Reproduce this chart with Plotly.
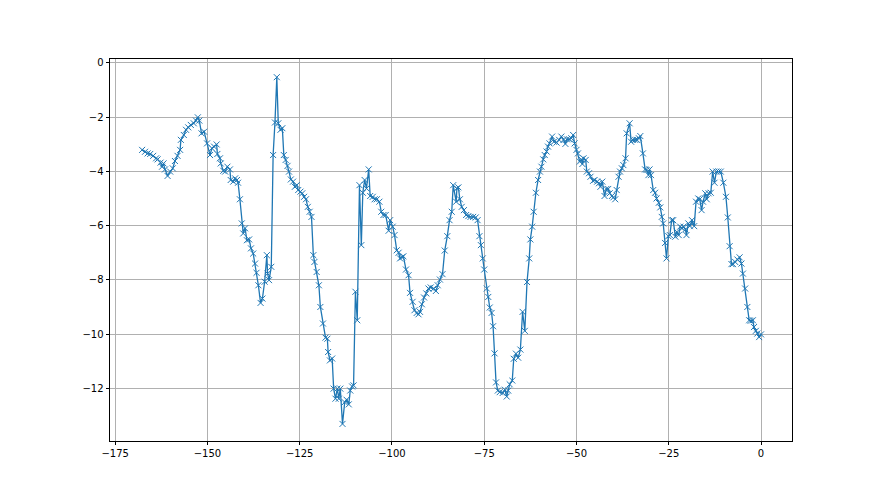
import plotly.graph_objects as go

x_vals = [
    -167.7, -166.9, -166.2, -165.5, -164.7, -163.9, -163.5, -162.7, -162.3, -161.9,
    -161.5, -160.8, -160.1, -159.4, -158.8, -158.1, -157.4, -157.2, -156.4, -155.8,
    -155.2, -154.5, -153.7, -153.1, -152.6, -152.2, -151.6, -150.9, -150.1, -149.3,
    -148.8, -148.2, -147.5, -147.3, -146.6, -146.4, -145.7, -145.2, -144.6, -143.9,
    -143.7, -143.0, -142.5, -142.0, -141.7, -141.2, -140.7, -140.3, -139.8, -139.3,
    -138.7, -138.2, -137.6, -137.1, -136.7, -136.2, -135.6, -135.1, -134.5, -133.9,
    -133.7, -133.3, -132.7, -132.2, -131.7, -131.2, -130.8, -130.2, -129.7, -129.3,
    -128.8, -128.3, -127.9, -127.4, -126.8, -126.3, -125.8, -125.4, -124.8, -124.3,
    -123.8, -123.3, -122.8, -122.3, -121.8, -121.3, -121.0, -120.4, -119.8, -119.4,
    -118.7, -118.0, -117.5, -117.3, -116.8, -116.2, -115.8, -115.3, -114.8, -114.4,
    -114.0, -113.4, -112.8, -112.3, -111.7, -111.3, -110.8, -110.4, -109.9, -109.4,
    -108.8, -108.3, -107.9, -107.4, -106.9, -106.3, -105.9, -105.2, -104.7, -104.1,
    -103.4, -102.9, -102.3, -101.7, -100.9, -100.5, -99.8, -99.3, -98.7, -98.2,
    -97.8, -97.3, -96.9, -96.2, -95.5, -95.1, -94.4, -93.9, -93.3, -92.8,
    -92.4, -91.9, -91.3, -90.7, -90.1, -89.5, -88.7, -88.1, -87.6, -87.0,
    -86.3, -85.7, -85.0, -84.4, -83.8, -83.4, -82.6, -82.4, -82.0, -81.6,
    -81.1, -80.5, -79.9, -79.3, -78.7, -78.0, -77.3, -76.8, -76.3, -75.9,
    -75.4, -75.0, -74.3, -73.9, -73.5, -73.0, -72.6, -72.2, -71.8, -71.3,
    -70.8, -70.0, -69.4, -68.9, -68.5, -68.1, -67.4, -67.0, -66.4, -65.8,
    -65.2, -64.6, -64.0, -63.4, -62.8, -62.5, -62.0, -61.6, -61.0, -60.4,
    -59.9, -59.5, -59.0, -58.6, -58.1, -57.7, -57.3, -56.6, -56.1, -55.4,
    -54.7, -54.1, -53.5, -53.0, -52.6, -52.0, -51.4, -50.9, -50.5, -50.0,
    -49.6, -49.1, -48.7, -48.4, -48.1, -47.5, -47.2, -46.6, -46.2, -45.5,
    -45.1, -44.4, -43.9, -43.5, -43.0, -42.4, -41.9, -41.4, -41.0, -40.4,
    -40.0, -39.5, -39.1, -38.6, -38.2, -37.7, -37.3, -36.7, -36.4, -35.6,
    -35.2, -34.7, -34.1, -33.6, -33.1, -32.7, -32.0, -31.4, -31.0, -30.5,
    -30.2, -29.8, -29.2, -28.7, -28.3, -27.7, -27.3, -26.9, -26.5, -26.0,
    -25.6, -25.1, -24.7, -24.2, -23.8, -23.2, -22.8, -22.3, -21.9, -21.4,
    -21.0, -20.5, -20.2, -19.7, -19.3, -18.7, -18.1, -17.6, -17.0, -16.6,
    -16.1, -15.7, -15.1, -14.7, -14.2, -13.6, -13.1, -12.6, -12.1, -11.5,
    -10.9, -10.2, -9.5, -9.0, -8.5, -8.0, -7.6, -7.0, -6.4, -5.8,
    -5.3, -4.9, -4.3, -3.7, -3.2, -2.8, -2.2, -1.9, -1.4, -1.0,
    -0.5, 0.0,
]

y_vals = [
    -3.21, -3.28, -3.34, -3.36, -3.43, -3.52, -3.56, -3.68, -3.83, -3.71,
    -3.93, -4.17, -4.01, -3.89, -3.62, -3.43, -3.21, -2.84, -2.66, -2.47,
    -2.38, -2.29, -2.23, -2.13, -2.01, -2.13, -2.60, -2.54, -2.97, -3.40,
    -3.15, -3.09, -3.01, -3.36, -3.52, -3.71, -3.98, -4.01, -3.83, -3.93,
    -4.32, -4.38, -4.26, -4.32, -4.42, -5.03, -5.92, -6.29, -6.10, -6.54,
    -6.51, -6.84, -7.03, -7.40, -7.74, -8.20, -8.85, -8.69, -8.07, -7.09,
    -7.77, -8.01, -7.52, -3.40, -2.20, -0.53, -2.23, -2.47, -2.41, -3.40,
    -3.58, -3.80, -4.01, -4.30, -4.38, -4.57, -4.51, -4.69, -4.75, -4.81,
    -4.94, -5.03, -5.31, -5.49, -5.68, -7.09, -7.34, -7.71, -8.20, -9.00,
    -9.61, -10.13, -10.17, -10.66, -10.97, -10.90, -12.01, -12.38, -12.01, -12.38,
    -12.01, -13.31, -12.51, -12.42, -12.59, -12.08, -11.93, -11.89, -8.44, -9.49,
    -4.51, -6.72, -4.79, -4.32, -4.63, -3.93, -4.91, -4.94, -5.03, -5.03,
    -5.12, -5.49, -5.61, -5.61, -6.19, -5.80, -6.04, -6.35, -6.91, -7.00,
    -7.21, -7.17, -7.13, -7.62, -7.83, -8.48, -8.81, -9.12, -9.22, -9.27,
    -9.18, -8.90, -8.65, -8.50, -8.32, -8.28, -8.32, -8.41, -8.20, -7.99,
    -7.79, -6.92, -6.39, -5.80, -5.49, -4.51, -5.12, -4.63, -4.59, -5.03,
    -5.31, -5.43, -5.61, -5.65, -5.68, -5.68, -5.70, -5.80, -6.39, -6.72,
    -7.21, -7.62, -8.32, -8.63, -9.02, -9.22, -9.71, -10.71, -11.78, -12.08,
    -12.14, -12.17, -12.05, -12.30, -12.08, -11.85, -11.71, -10.91, -10.72, -10.87,
    -10.57, -9.18, -9.88, -8.08, -7.21, -6.51, -6.04, -5.49, -4.79, -4.32,
    -4.01, -3.83, -3.56, -3.40, -3.27, -3.09, -2.97, -2.72, -2.91, -2.94,
    -2.84, -2.72, -2.84, -2.99, -2.82, -2.82, -2.78, -2.66, -2.97, -3.21,
    -3.34, -3.64, -3.56, -3.73, -3.52, -3.58, -4.01, -4.07, -4.20, -4.35,
    -4.32, -4.38, -4.44, -4.57, -4.38, -4.91, -4.65, -4.65, -4.81, -4.91,
    -4.96, -5.03, -4.69, -4.20, -4.01, -3.89, -3.77, -3.52, -2.60, -2.23,
    -2.91, -2.84, -2.84, -2.84, -2.78, -2.70, -3.34, -3.93, -3.95, -4.14,
    -3.93, -4.14, -4.69, -4.79, -5.00, -5.16, -5.33, -5.68, -5.92, -6.64,
    -7.21, -6.39, -6.35, -5.80, -5.80, -6.41, -6.23, -6.35, -6.04, -6.10,
    -6.04, -6.14, -6.35, -5.92, -6.02, -5.80, -6.02, -5.12, -5.00, -5.03,
    -5.43, -5.12, -4.81, -5.03, -4.81, -4.79, -4.01, -4.42, -4.01, -4.01,
    -4.01, -4.42, -4.94, -5.70, -6.76, -7.42, -7.42, -7.34, -7.25, -7.17,
    -7.40, -7.77, -8.32, -9.00, -9.49, -9.51, -9.49, -9.74, -9.88, -9.98,
    -10.11, -10.01,
]

x_ticks = [-175, -150, -125, -100, -75, -50, -25, 0]
y_ticks = [0, -2, -4, -6, -8, -10, -12]

color = "#1f77b4"

fig = go.Figure()
fig.add_trace(go.Scatter(
    x=x_vals, y=y_vals,
    mode="lines+markers",
    line=dict(color=color, width=1.3),
    marker=dict(symbol="x-thin", size=6, line=dict(color=color, width=1), color=color),
    showlegend=False,
))

axis_common = dict(
    showgrid=True, gridcolor="#b0b0b0", gridwidth=0.8,
    zeroline=False,
    showline=True, linecolor="black", linewidth=0.8, mirror=True,
    ticks="outside", ticklen=3.5, tickwidth=0.8, tickcolor="black",
    tickfont=dict(family="DejaVu Sans", size=10, color="black"),
)

# page body has an 8px default margin, so the figure is sized to fit the window
fig.update_layout(
    width=872, height=487,
    margin=dict(l=102, r=88, t=51, b=54),
    plot_bgcolor="white", paper_bgcolor="white",
    xaxis=dict(range=[-176.4, 8.4], tickmode="array", tickvals=x_ticks, **axis_common),
    yaxis=dict(range=[-13.94, 0.14], tickmode="array", tickvals=y_ticks, **axis_common),
)

fig.write_html("out.html")
